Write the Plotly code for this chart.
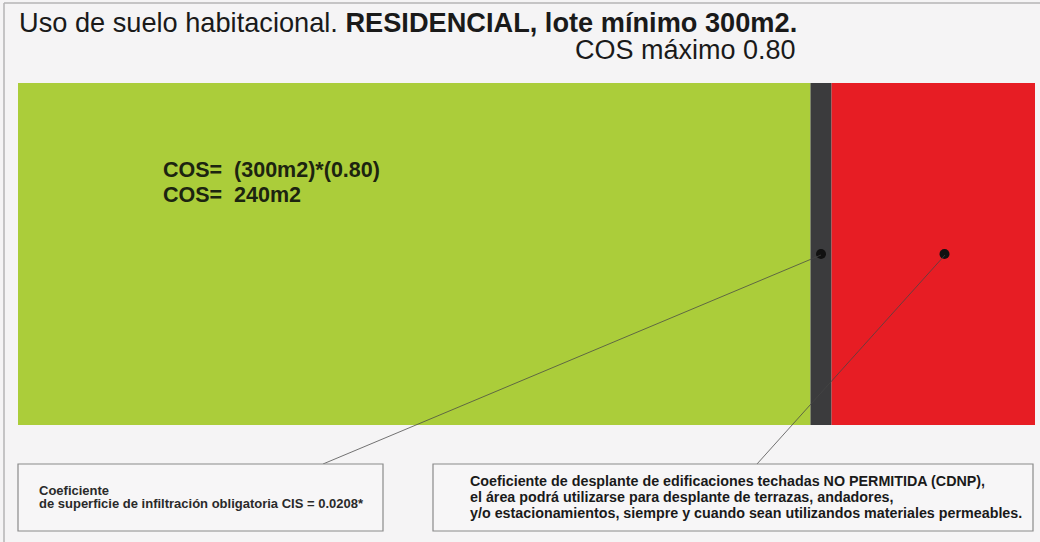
import plotly.graph_objects as go

# Data
lot_area_m2 = 300
cos_max = 0.80
cis = 0.0208
segment_names = ["COS (desplante)", "CIS (infiltración)", "CDNP"]
segment_values = [cos_max - cis, cis, 1 - cos_max]
segment_colors = ["#abcd3a", "#3b3b3d", "#e71d24"]
dot_positions = [cos_max - cis / 2, 0.911]

title_main = "Uso de suelo habitacional. "
title_bold = "RESIDENCIAL, lote mínimo 300m2."
cos_lines = [f"COS=  ({lot_area_m2}m2)*({cos_max:.2f})", f"COS=  {lot_area_m2 * cos_max:.0f}m2"]
box1_lines = ["Coeficiente", f"de superficie de infiltración obligatoria CIS = {cis}*"]
box2_lines = ["Coeficiente de desplante de edificaciones techadas NO PERMITIDA (CDNP),",
              "el área podrá utilizarse para desplante de terrazas, andadores,",
              "y/o estacionamientos, siempre y cuando sean utilizandos materiales permeables."]

W, H = 1040, 542
L, R, T, B = 18, 1035, 83, 425  # plot area in px


def px(x):
    return (x - L) / (R - L)


def py(y):
    return (B - y) / (B - T)


FONT = "Liberation Sans, Arial, sans-serif"
BG = "#f5f4f5"

fig = go.Figure()
base = 0
for name, val, col in zip(segment_names, segment_values, segment_colors):
    fig.add_trace(go.Bar(y=[0], x=[val], base=[base], orientation="h", width=1,
                         marker=dict(color=col, line=dict(width=0)), name=name,
                         hoverinfo="name"))
    base += val

fig.add_trace(go.Scatter(x=dot_positions, y=[0, 0], mode="markers",
                         marker=dict(color="#111111", size=10), hoverinfo="skip"))

shapes = []
# frame lines
shapes.append(dict(type="line", xref="paper", yref="paper", x0=px(4), x1=px(1040), y0=py(3), y1=py(3),
                   line=dict(color="#b5b5b5", width=1.5)))
shapes.append(dict(type="line", xref="paper", yref="paper", x0=px(4), x1=px(4), y0=py(3), y1=py(542),
                   line=dict(color="#b5b5b5", width=1.5)))
# leader lines
shapes.append(dict(type="line", xref="paper", yref="paper", x0=px(821), y0=py(255), x1=px(323), y1=py(464),
                   line=dict(color="rgba(70,70,70,0.75)", width=1)))
shapes.append(dict(type="line", xref="paper", yref="paper", x0=px(945), y0=py(255), x1=px(757), y1=py(464),
                   line=dict(color="rgba(70,70,70,0.75)", width=1)))
# boxes
for x0, x1 in [(18, 383), (433, 1033)]:
    shapes.append(dict(type="rect", xref="paper", yref="paper", x0=px(x0), x1=px(x1), y0=py(464), y1=py(531),
                       line=dict(color="#8a8a8a", width=1.2), fillcolor="#f7f6f7"))


def ann(x, y, text, size, color="#1a1a1a", xanchor="left"):
    return dict(x=px(x), y=py(y), xref="paper", yref="paper", xanchor=xanchor, yanchor="middle",
                showarrow=False, align="left", text=text,
                font=dict(family=FONT, size=size, color=color))


annotations = [
    ann(17, 22, f"{title_main}<b>{title_bold}</b>", 27.2),
    ann(798, 50, f"COS máximo {cos_max:.2f}", 27, xanchor="right"),
]
for i, t in enumerate(cos_lines):
    annotations.append(ann(161, 170 + 25 * i, f"<b>{t}</b>", 21.5, color="#1c2410"))
for i, t in enumerate(box1_lines):
    annotations.append(ann(37, 490 + 13 * i, f"<b>{t}</b>", 13, color="#2a2a2a"))
for i, t in enumerate(box2_lines):
    annotations.append(ann(468, 481 + 16 * i, f"<b>{t}</b>", 14.3))

fig.update_layout(
    width=W, height=H, barmode="overlay", showlegend=False,
    margin=dict(l=L, r=W - R, t=T, b=H - B, pad=0),
    paper_bgcolor=BG, plot_bgcolor=BG,
    xaxis=dict(range=[0, 1], visible=False, fixedrange=True),
    yaxis=dict(range=[-0.5, 0.5], visible=False, fixedrange=True),
    shapes=shapes, annotations=annotations,
)

fig.write_html("out.html", config={"displayModeBar": False},
               post_script="document.body.style.margin='0px';document.body.style.overflow='hidden';")
